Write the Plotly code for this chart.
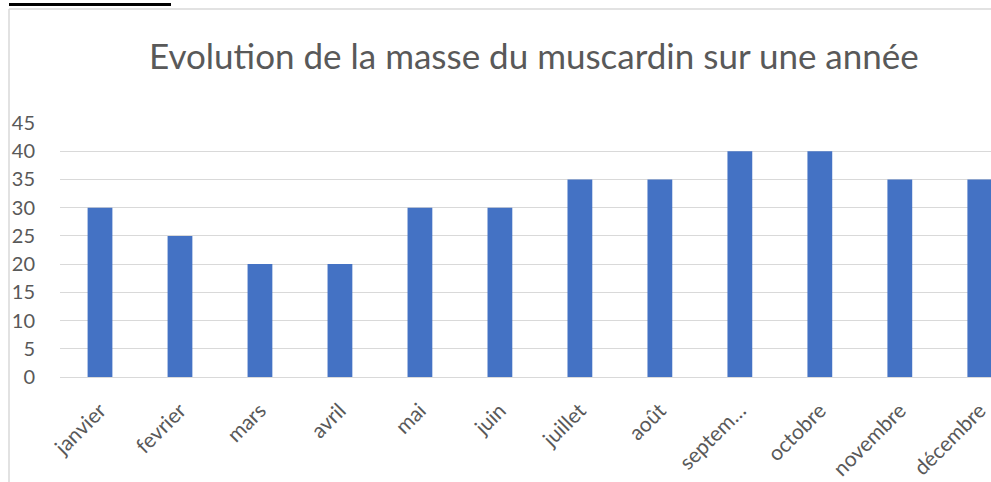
import plotly.graph_objects as go

months = ["janvier", "fevrier", "mars", "avril", "mai", "juin", "juillet",
          "août", "septem…", "octobre", "novembre", "décembre"]
masses = [30, 25, 20, 20, 30, 30, 35, 35, 40, 40, 35, 35]
y_ticks = [0, 5, 10, 15, 20, 25, 30, 35, 40, 45]
title_text = "Evolution de la masse du muscardin sur une année"
header_label = "Document 3 :"
header_text = "Evolution de la masse du muscardin sur une année"

W, H = 991, 482
L, T, B = 60, 123, 105
PW, PH = W - L, H - T - B

def px_x(x):
    return (x - L) / PW

def px_y(y):
    return (H - B - y) / PH

FONT = "Lato, Carlito, Calibri, sans-serif"
GREY = "#595959"

fig = go.Figure(go.Bar(
    x=list(range(len(months))), y=masses,
    marker=dict(color="#4472C4", line=dict(width=0)),
    hoverinfo="skip",
))

fig.update_layout(
    width=W, height=H,
    margin=dict(l=L, r=0, t=T, b=B, pad=0),
    paper_bgcolor="white", plot_bgcolor="white",
    bargap=0.69,
    showlegend=False,
    font=dict(family=FONT, color=GREY, size=20),
)

fig.update_xaxes(
    range=[-0.5, 11.14],
    tickmode="array", tickvals=list(range(len(months))), ticktext=months,
    tickangle=-45,
    ticks="outside", ticklen=12, tickcolor="rgba(0,0,0,0)",
    showgrid=False, zeroline=False,
    showline=True, linecolor="#d9d9d9", linewidth=1,
    tickfont=dict(family=FONT, color=GREY, size=21),
)
fig.update_yaxes(
    range=[0, 45],
    tickmode="array", tickvals=y_ticks,
    ticks="outside", ticklen=20, tickcolor="rgba(0,0,0,0)",
    showgrid=True, gridcolor="#d9d9d9", gridwidth=1,
    zeroline=False, showline=False,
    tickfont=dict(family=FONT, color=GREY, size=20),
)

# title
fig.add_annotation(
    text=title_text, xref="paper", yref="paper",
    x=px_x(534), y=px_y(55), xanchor="center", yanchor="middle",
    showarrow=False, font=dict(family=FONT, color=GREY, size=35),
)

# cropped header line above the chart
fig.add_annotation(
    text="<b>" + header_label + "</b>", xref="paper", yref="paper",
    x=px_x(9), y=px_y(5.5), xanchor="left", yanchor="bottom",
    showarrow=False, font=dict(family=FONT, color="black", size=20),
)
fig.add_annotation(
    text=header_text, xref="paper", yref="paper",
    x=px_x(190), y=px_y(5.5), xanchor="left", yanchor="bottom",
    showarrow=False, font=dict(family=FONT, color="#404040", size=20),
)
fig.add_shape(type="rect", xref="paper", yref="paper",
              x0=px_x(9), x1=px_x(171), y0=px_y(6), y1=px_y(3),
              fillcolor="black", line=dict(width=0))

# chart frame
fig.add_shape(type="line", xref="paper", yref="paper",
              x0=px_x(9), x1=px_x(W + 5), y0=px_y(9), y1=px_y(9),
              line=dict(color="#d9d9d9", width=1.5))
fig.add_shape(type="line", xref="paper", yref="paper",
              x0=px_x(9), x1=px_x(9), y0=px_y(9), y1=px_y(H + 5),
              line=dict(color="#d9d9d9", width=1.5))

fig.write_html(
    "out.html",
    config={"displayModeBar": False},
    post_script="document.body.style.margin='0';document.body.style.overflow='hidden';",
)
